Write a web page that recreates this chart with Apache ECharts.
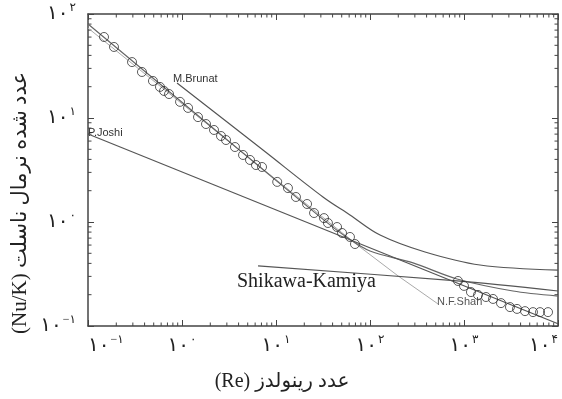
<!DOCTYPE html>
<html>
<head>
<meta charset="utf-8">
<script src="https://cdn.jsdelivr.net/npm/echarts@6/dist/echarts.min.js"></script>
<style>html,body{margin:0;padding:0;background:#fff}#c{width:562px;height:399px}</style>
</head>
<body>
<div id="c"></div>
<script>
// ---- data (Re, Nu/K) ----
const expX = ['−۱', '۰', '۱', '۲', '۳', '۴'];   // superscripts for 10^-1 .. 10^4
const expY = ['−۱', '۰', '۱', '۲'];              // superscripts for 10^-1 .. 10^2

const expRe = [0.148,0.189,0.294,0.375,0.491,0.583,0.644,0.728,0.953,1.16,1.48,1.80,2.19,2.60,2.94,3.66,4.46,5.29,6.12,7.10,10.3,13.4,16.3,21.4,25.4,32.4,35.7,44.6,50.4,61.2,69.2,863,1000,1186,1409,1714,2036,2476,3084,3664,4457,5420,6437,7834];
const expNu = [60.1,48.2,34.5,27.7,22.7,19.9,18.2,17.0,14.3,12.5,10.2,8.75,7.67,6.71,6.14,5.26,4.41,3.95,3.53,3.38,2.43,2.12,1.74,1.49,1.22,1.09,0.978,0.895,0.784,0.718,0.614,0.271,0.243,0.212,0.199,0.190,0.182,0.166,0.152,0.146,0.139,0.136,0.136,0.136];

const brunatRe = [0.885,7.27,31.6,61.2,128,385,1479,10000];
const brunatNu = [21.7,4.92,1.74,1.17,0.750,0.515,0.386,0.345];

const fitRe = [0.1,29.4,54.2,100,287,843,3319,10000];
const fitNu = [80.1,1.12,0.733,0.526,0.404,0.283,0.217,0.194];

const joshiRe = [0.1,10000];
const joshiNu = [7.02,0.105];

const kamiyaRe = [6.44,843,10000];
const kamiyaNu = [0.378,0.271,0.217];

const shahRe = [0.1,71.0,199,529];
const shahNu = [73.3,0.614,0.303,0.163];

const zip = (a, b) => a.map((v, i) => [v, b[i]]);

function minors(lo, hi) {
  const out = [];
  for (let e = lo; e < hi; e++) for (let m = 2; m <= 9; m++) out.push(m * Math.pow(10, e));
  return out;
}
const xMinor = minors(-1, 4);
const yMinor = minors(-1, 2);

const serif = "'Liberation Serif','DejaVu Sans',serif";
const rich = {
  b: { fontSize: 20, fontFamily: serif, color: '#222', lineHeight: 24 },
  s: { fontSize: 12, fontFamily: serif, color: '#222', verticalAlign: 'top', padding: [0, 0, 10, 1] }
};
const fmt = (exps, lo) => v => '{b|۱۰}{s|' + exps[Math.round(Math.log10(v)) - lo] + '}';

const axisCol = '#444';
function xAx(pos, labels) {
  return {
    type: 'log', logBase: 10, min: 0.1, max: 10000, position: pos,
    axisLine: { show: true, lineStyle: { color: axisCol, width: 1.5 } },
    axisTick: { inside: true, length: 6, lineStyle: { color: axisCol } },
    axisLabel: labels ? { show: true, margin: 8, formatter: fmt(expX, -1), rich: rich,
                          alignMinLabel: 'left', alignMaxLabel: 'right' } : { show: false },
    splitLine: { show: false }
  };
}
function yAx(pos, labels) {
  return {
    type: 'log', logBase: 10, min: 0.1, max: 100, position: pos,
    axisLine: { show: true, lineStyle: { color: axisCol, width: 1.5 } },
    axisTick: { inside: true, length: 6, lineStyle: { color: axisCol } },
    axisLabel: labels ? { show: true, margin: 12, formatter: fmt(expY, -1), rich: rich } : { show: false },
    splitLine: { show: false }
  };
}

const lineStyle = (c, w) => ({ color: c, width: w });

// minor ticks drawn through the axes' own scales
function minorTickSeries(vals, isX) {
  return {
    type: 'custom', silent: true, z: 1,
    data: vals.map(v => isX ? [v, 1] : [1, v]),
    renderItem: function (params, api) {
      const cs = params.coordSys;
      const p = api.coord([api.value(0), api.value(1)]);
      const L = 3.5, st = { stroke: axisCol, lineWidth: 1 };
      if (isX) {
        const b = cs.y + cs.height, t = cs.y;
        return { type: 'group', children: [
          { type: 'line', shape: { x1: p[0], y1: b, x2: p[0], y2: b - L }, style: st },
          { type: 'line', shape: { x1: p[0], y1: t, x2: p[0], y2: t + L }, style: st }
        ] };
      } else {
        const l = cs.x, r = cs.x + cs.width;
        return { type: 'group', children: [
          { type: 'line', shape: { x1: l, y1: p[1], x2: l + L, y2: p[1] }, style: st },
          { type: 'line', shape: { x1: r, y1: p[1], x2: r - L, y2: p[1] }, style: st }
        ] };
      }
    }
  };
}

const chart = echarts.init(document.getElementById('c'), null, { renderer: 'canvas' });
chart.setOption({
  animation: false,
  backgroundColor: '#fff',
  grid: { left: 88, right: 4, top: 14, bottom: 73, containLabel: false, outerBoundsMode: 'none' },
  xAxis: [xAx('bottom', true), xAx('top', false)],
  yAxis: [yAx('left', true), yAx('right', false)],
  series: [
    minorTickSeries(xMinor, true),
    minorTickSeries(yMinor, false),
    { type: 'line', data: zip(shahRe, shahNu), showSymbol: false, lineStyle: lineStyle('#aaa', 1), z: 2 },
    { type: 'line', data: zip(fitRe, fitNu), showSymbol: false, smooth: 0.3, lineStyle: lineStyle('#666', 1.2), z: 3 },
    { type: 'line', data: zip(brunatRe, brunatNu), showSymbol: false, smooth: 0.35, lineStyle: lineStyle('#555', 1.2), z: 3 },
    { type: 'line', data: zip(joshiRe, joshiNu), showSymbol: false, lineStyle: lineStyle('#555', 1.2), z: 3 },
    { type: 'line', data: zip(kamiyaRe, kamiyaNu), showSymbol: false, smooth: 0.3, lineStyle: lineStyle('#555', 1.2), z: 3 },
    { type: 'scatter', data: zip(expRe, expNu), symbol: 'circle', symbolSize: 9,
      itemStyle: { color: 'rgba(255,255,255,0)', borderColor: '#333', borderWidth: 1 }, z: 5 }
  ],
  graphic: [
    { type: 'text', left: 173, top: 73, style: { text: 'M.Brunat', font: "11px 'Liberation Sans', Arial", fill: '#333' } },
    { type: 'text', left: 88, top: 127, style: { text: 'P.Joshi', font: "11px 'Liberation Sans', Arial", fill: '#333' } },
    { type: 'text', left: 437, top: 296, style: { text: 'N.F.Shah', font: "11px 'Liberation Sans', Arial", fill: '#555' } },
    { type: 'text', left: 237, top: 272, style: { text: 'Shikawa-Kamiya', font: "20px " + serif, fill: '#222' } },
    { type: 'text', x: 282, y: 382, style: { text: '(Re) عدد رینولدز', font: "20px " + serif, fill: '#222', textAlign: 'center', textVerticalAlign: 'middle' } },
    { type: 'text', x: 20, y: 203, rotation: Math.PI / 2, style: { text: '(Nu/K) عدد شده نرمال ناسلت', font: "21px " + serif, fill: '#222', textAlign: 'center', textVerticalAlign: 'middle' } }
  ]
});
</script>
</body>
</html>
